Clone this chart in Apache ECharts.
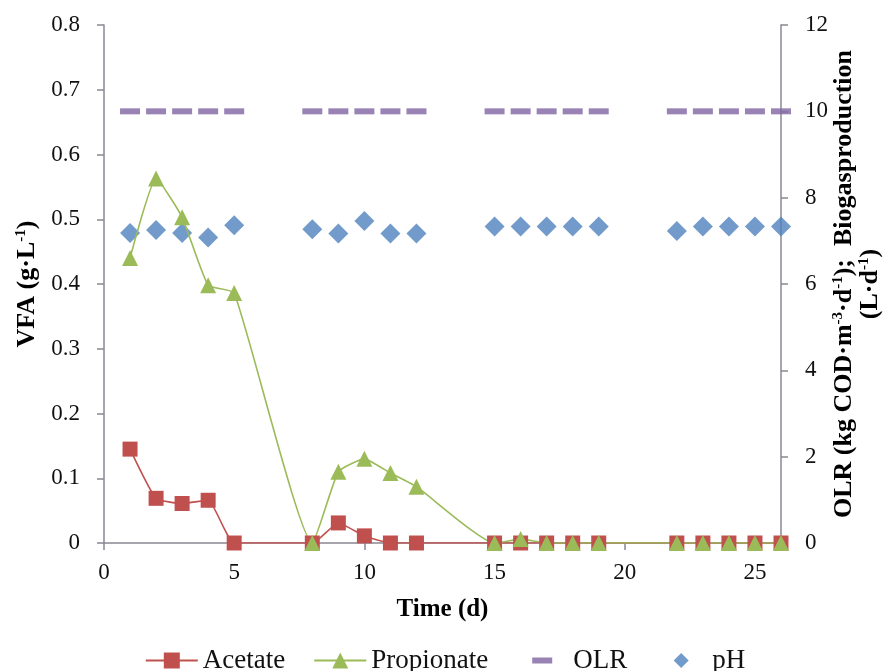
<!DOCTYPE html>
<html>
<head>
<meta charset="utf-8">
<script src="https://cdn.jsdelivr.net/npm/echarts@6/dist/echarts.min.js"></script>
<style>
  html, body { margin: 0; padding: 0; background: #fff; }
  #chart { width: 890px; height: 671px; }
</style>
</head>
<body>
<div id="chart"></div>
<script>
// Sampling days of the reactor run
const days = [1, 2, 3, 4, 5, 8, 9, 10, 11, 12, 15, 16, 17, 18, 19, 22, 23, 24, 25, 26];
// Volatile fatty acids (g·L-1)
const acetate = [0.145, 0.069, 0.061, 0.066, 0, 0, 0.031, 0.011, 0, 0, 0, 0, 0, 0, 0, 0, 0, 0, 0, 0];
const propionate = [0.44, 0.563, 0.503, 0.398, 0.386, 0, 0.11, 0.13, 0.108, 0.087, 0, 0.006, 0, 0, 0, 0, 0, 0, 0, 0];
// Organic loading rate and pH (right axis)
const olr = [10, 10, 10, 10, 10, 10, 10, 10, 10, 10, 10, 10, 10, 10, 10, 10, 10, 10, 10, 10];
const ph = [7.18, 7.25, 7.18, 7.08, 7.36, 7.27, 7.17, 7.46, 7.17, 7.17, 7.33, 7.33, 7.33, 7.33, 7.33, 7.23, 7.33, 7.33, 7.33, 7.33];

// Axis tick values
const leftTicks = { min: 0, max: 0.8, interval: 0.1 };
const rightTicks = { min: 0, max: 12, interval: 2 };
const xTicks = { min: 0, max: 26, interval: 5 };

const pair = (vals) => days.map((d, i) => [d, vals[i]]);

const SERIF = '"Liberation Serif", "Times New Roman", serif';
const AXIS_COLOR = '#8a8794';

const nameStyle = {
  fontFamily: SERIF,
  fontWeight: 'bold',
  fontSize: 26,
  color: '#000',
  rich: {
    b: { fontFamily: SERIF, fontWeight: 'bold', fontSize: 26, color: '#000' },
    sup: { fontFamily: SERIF, fontWeight: 'bold', fontSize: 15, color: '#000', verticalAlign: 'top' }
  }
};

const labelStyle = { fontFamily: SERIF, fontSize: 23, color: '#111' };

const chart = echarts.init(document.getElementById('chart'), null, { renderer: 'canvas' });

chart.setOption({
  animation: false,
  backgroundColor: '#fff',
  grid: { left: 104, right: 109, top: 25, bottom: 128, containLabel: false, outerBoundsMode: 'none' },
  legend: {
    left: 'center',
    top: 642,
    itemWidth: 52,
    itemHeight: 20,
    itemGap: 28,
    textStyle: { fontFamily: SERIF, fontSize: 27, color: '#111' },
    data: [
      { name: 'Acetate' },
      { name: 'Propionate' },
      { name: 'OLR', icon: 'path://M0,0M52,20M16,7h20v6h-20z' },
      { name: 'pH', icon: 'path://M0,0M52,20M26,2.5L33.5,10L26,17.5L18.5,10z' }
    ]
  },
  xAxis: {
    type: 'value',
    min: xTicks.min,
    max: xTicks.max,
    interval: xTicks.interval,
    name: 'Time (d)',
    nameLocation: 'middle',
    nameGap: 54,
    nameTextStyle: { fontFamily: SERIF, fontWeight: 'bold', fontSize: 25, color: '#000' },
    axisLine: { show: true, lineStyle: { color: AXIS_COLOR, width: 1.5 } },
    axisTick: { show: true, inside: false, length: 7, lineStyle: { color: AXIS_COLOR, width: 1.5 } },
    axisLabel: Object.assign({ margin: 18, showMaxLabel: false }, labelStyle),
    splitLine: { show: false }
  },
  yAxis: [
    {
      type: 'value',
      position: 'left',
      min: leftTicks.min,
      max: leftTicks.max,
      interval: leftTicks.interval,
      name: '{b|VFA (g·L}{sup|-1}{b|)}',
      nameLocation: 'middle',
      nameGap: 64,
      nameMoveOverlap: false,
      nameTextStyle: nameStyle,
      axisLine: { show: true, lineStyle: { color: AXIS_COLOR, width: 1.5 } },
      axisTick: { show: true, inside: false, length: 7, lineStyle: { color: AXIS_COLOR, width: 1.5 } },
      axisLabel: Object.assign({ margin: 24 }, labelStyle),
      splitLine: { show: false }
    },
    {
      type: 'value',
      position: 'right',
      min: rightTicks.min,
      max: rightTicks.max,
      interval: rightTicks.interval,
      name: '{b|OLR (kg COD·m}{sup|-3}{b|·d}{sup|-1}{b|);  Biogasproduction}\n{b|(L·d}{sup|-1}{b|)}',
      nameLocation: 'middle',
      nameGap: 50,
      nameMoveOverlap: false,
      nameTextStyle: nameStyle,
      axisLine: { show: true, lineStyle: { color: AXIS_COLOR, width: 1.5 } },
      axisTick: { show: true, inside: false, length: 7, lineStyle: { color: AXIS_COLOR, width: 1.5 } },
      axisLabel: Object.assign({ margin: 24 }, labelStyle),
      splitLine: { show: false }
    }
  ],
  series: [
    {
      name: 'Acetate',
      type: 'line',
      yAxisIndex: 0,
      data: pair(acetate),
      smooth: 0.15,
      symbol: 'rect',
      symbolSize: 15,
      color: '#C0504D',
      lineStyle: { color: '#C0504D', width: 1.6 },
      itemStyle: { color: '#C0504D' }
    },
    {
      name: 'Propionate',
      type: 'line',
      yAxisIndex: 0,
      data: pair(propionate),
      smooth: 0.15,
      symbol: 'triangle',
      symbolSize: 16,
      color: '#9BBB59',
      lineStyle: { color: '#9BBB59', width: 1.6 },
      itemStyle: { color: '#9BBB59' }
    },
    {
      name: 'OLR',
      type: 'scatter',
      yAxisIndex: 1,
      data: pair(olr),
      symbol: 'rect',
      symbolSize: [20, 6],
      color: '#8064A2',
      itemStyle: { color: '#8064A2' }
    },
    {
      name: 'pH',
      type: 'scatter',
      yAxisIndex: 1,
      data: pair(ph),
      symbol: 'diamond',
      symbolSize: 20,
      color: '#4F81BD',
      itemStyle: { color: '#4F81BD' }
    }
  ]
});
</script>
</body>
</html>
